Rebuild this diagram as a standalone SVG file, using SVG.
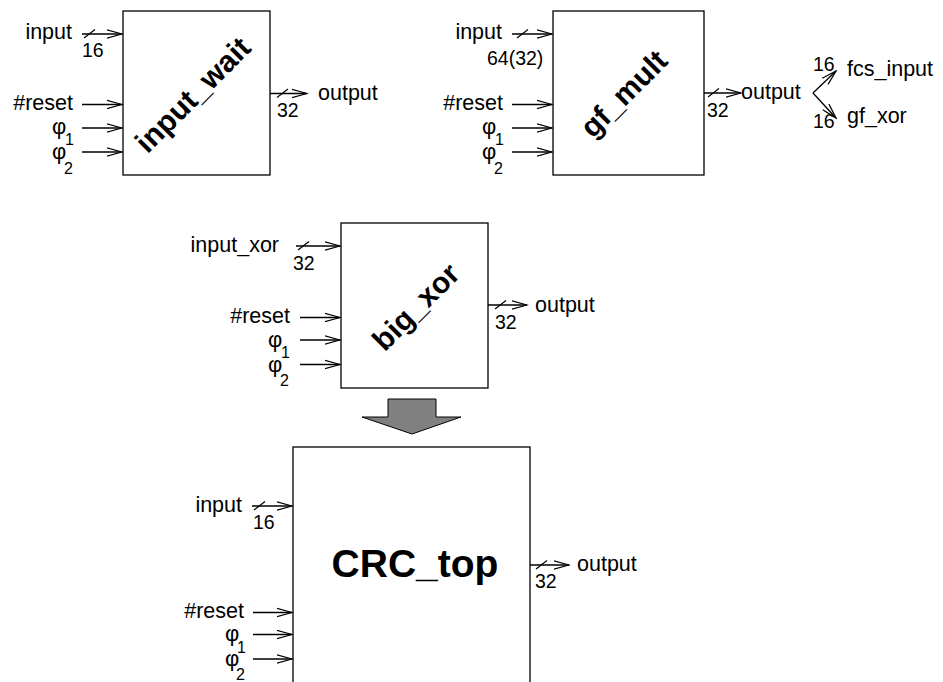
<svg xmlns="http://www.w3.org/2000/svg" width="943" height="682" viewBox="0 0 943 682">
<defs>
<marker id="ah" markerUnits="userSpaceOnUse" markerWidth="17" markerHeight="11" refX="15.5" refY="5.5" orient="auto">
<path d="M0.5,1.3 L15.5,5.5 L0.5,9.7" fill="none" stroke="#000" stroke-width="1.2"/>
</marker>
</defs>
<style>
.box{fill:#fff;stroke:#000;stroke-width:1.3}
.w{stroke:#000;stroke-width:1.2;fill:none}
.a{stroke:#000;stroke-width:1.3;fill:none;marker-end:url(#ah)}
.t{font-family:"Liberation Sans",Arial,sans-serif;font-size:21.5px;fill:#000}
.n{font-family:"Liberation Sans",Arial,sans-serif;font-size:19.5px;fill:#000}
.ph{font-family:"Liberation Sans",Arial,sans-serif;font-size:22px;fill:#000}
.s{font-family:"Liberation Sans",Arial,sans-serif;font-size:16px;fill:#000}
.b{font-family:"Liberation Sans",Arial,sans-serif;font-size:30px;font-weight:bold;fill:#000}
.big{font-family:"Liberation Sans",Arial,sans-serif;font-size:39px;font-weight:bold;fill:#000}
.r{text-anchor:end}
.m{text-anchor:middle}
</style>

<g id="input_wait">
<rect class="box" x="123" y="11" width="147" height="164"/>
<text class="b m" transform="translate(193,95) rotate(-45)" x="0" y="10">input_wait</text>
<text class="t r" x="72" y="39">input</text>
<text class="n" x="82" y="57">16</text>
<text class="t r" x="73" y="110">#reset</text>
<text class="ph" x="52" y="134">φ</text><text class="s" x="65" y="145">1</text>
<text class="ph" x="52" y="159">φ</text><text class="s" x="64" y="174">2</text>
<text class="t" x="318" y="100">output</text>
<text class="n" x="277" y="117">32</text>
</g>

<g id="gf_mult">
<rect class="box" x="553" y="11" width="151" height="164"/>
<text class="b m" transform="translate(624,94) rotate(-45)" x="0" y="10">gf_mult</text>
<text class="t r" x="502" y="39">input</text>
<text class="n" x="487" y="65">64(32)</text>
<text class="t r" x="503" y="110">#reset</text>
<text class="ph" x="482" y="134">φ</text><text class="s" x="495" y="145">1</text>
<text class="ph" x="482" y="159">φ</text><text class="s" x="494" y="174">2</text>
<text class="t" x="741" y="99">output</text>
<text class="n" x="707" y="117">32</text>
<text class="n" x="813" y="71">16</text>
<text class="t" x="847" y="76">fcs_input</text>
<text class="n" x="813" y="128">16</text>
<text class="t" x="847" y="123">gf_xor</text>
</g>

<g id="big_xor">
<rect class="box" x="341" y="223" width="147" height="165"/>
<text class="b m" transform="translate(416,307) rotate(-45)" x="0" y="10">big_xor</text>
<text class="t r" x="279" y="252">input_xor</text>
<text class="n" x="293" y="270">32</text>
<text class="t r" x="290" y="323">#reset</text>
<text class="ph" x="268" y="347">φ</text><text class="s" x="281" y="358">1</text>
<text class="ph" x="268" y="372">φ</text><text class="s" x="280" y="386">2</text>
<text class="t" x="535" y="312">output</text>
<text class="n" x="495" y="329">32</text>
</g>

<g id="CRC_top">
<rect class="box" x="293" y="447" width="237" height="260"/>
<text class="big m" x="415" y="577">CRC_top</text>
<text class="t r" x="242" y="512">input</text>
<text class="n" x="253" y="529">16</text>
<text class="t r" x="244" y="618">#reset</text>
<text class="ph" x="225" y="641">φ</text><text class="s" x="237" y="653">1</text>
<text class="ph" x="225" y="666">φ</text><text class="s" x="236" y="680">2</text>
<text class="t" x="577" y="571">output</text>
<text class="n" x="535" y="588">32</text>
</g>

<g id="transform_arrow">
<polygon points="388,399 436,399 436,417 461,417 412,434 362,417 388,417" fill="#808080" stroke="#000" stroke-width="1"/>
</g>

<g id="connectors">
<line class="a" x1="82" y1="34" x2="122" y2="34"/>
<line class="w" x1="84" y1="38" x2="95" y2="29.5"/>
<line class="a" x1="82" y1="104.5" x2="122" y2="104.5"/>
<line class="a" x1="82" y1="128" x2="122" y2="128"/>
<line class="a" x1="82" y1="152" x2="122" y2="152"/>
<line class="a" x1="270" y1="93.5" x2="307" y2="93.5"/>
<line class="w" x1="277" y1="97.5" x2="288" y2="89"/>
<line class="a" x1="512" y1="34" x2="552" y2="34"/>
<line class="w" x1="517" y1="38" x2="528" y2="29.5"/>
<line class="a" x1="512" y1="104.5" x2="552" y2="104.5"/>
<line class="a" x1="512" y1="128" x2="552" y2="128"/>
<line class="a" x1="512" y1="152" x2="552" y2="152"/>
<line class="a" x1="704" y1="93" x2="741" y2="93"/>
<line class="w" x1="708" y1="97" x2="719" y2="88.5"/>
<line class="a" x1="813" y1="93" x2="836" y2="71"/>
<line class="a" x1="813" y1="93" x2="836" y2="118"/>
<line class="a" x1="296" y1="246" x2="340" y2="246"/>
<line class="w" x1="298" y1="250" x2="309" y2="241.5"/>
<line class="a" x1="300" y1="317.5" x2="340" y2="317.5"/>
<line class="a" x1="300" y1="340" x2="340" y2="340"/>
<line class="a" x1="300" y1="364.5" x2="340" y2="364.5"/>
<line class="a" x1="488" y1="305" x2="527" y2="305"/>
<line class="w" x1="495" y1="309" x2="506" y2="300.5"/>
<line class="a" x1="252" y1="506" x2="292" y2="506"/>
<line class="w" x1="254" y1="510" x2="265" y2="501.5"/>
<line class="a" x1="253" y1="612.5" x2="292" y2="612.5"/>
<line class="a" x1="253" y1="634.5" x2="292" y2="634.5"/>
<line class="a" x1="253" y1="659" x2="292" y2="659"/>
<line class="a" x1="530" y1="565" x2="569" y2="565"/>
<line class="w" x1="536" y1="569" x2="547" y2="560.5"/>
</g>
</svg>
